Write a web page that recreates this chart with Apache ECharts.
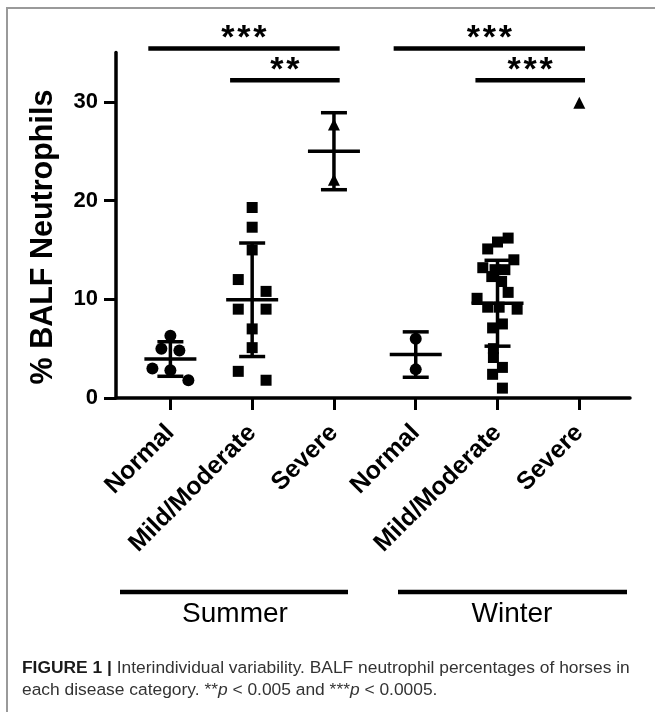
<!DOCTYPE html>
<html>
<head>
<meta charset="utf-8">
<title>BALF neutrophils</title>
<script src="https://cdn.jsdelivr.net/npm/echarts@6.0.0/dist/echarts.min.js"></script>
<style>
  html, body { margin: 0; padding: 0; background: #fff; }
  #chart { width: 655px; height: 712px; }
</style>
</head>
<body>
<div id="chart"></div>
<script>
const categories = ['Normal', 'Mild/Moderate', 'Severe', 'Normal', 'Mild/Moderate', 'Severe'];
const seasons = ['Summer', 'Winter'];
const yTicks = [0, 10, 20, 30];

// % BALF neutrophils, one value per horse
const summerNormal = [6.3, 5.0, 4.8, 3.0, 2.8, 1.8];
const summerMild = [19.3, 17.3, 15.0, 12.0, 10.8, 9.0, 9.0, 7.0, 5.1, 2.7, 1.8];
const summerSevere = [27.7, 22.1];
const winterNormal = [6.0, 2.9];
const winterMild = [16.2, 15.8, 15.1, 14.0, 13.2, 13.0, 13.0, 12.3, 11.8, 10.7, 10.1,
  9.2, 9.2, 9.0, 7.1, 7.5, 5.0, 4.1, 3.1, 2.4, 1.0];
const winterSevere = [29.9];

// sideways spread of the dots in a column (category units)
const summerNormalJitter = [0, -0.11, 0.11, -0.22, 0, 0.22];
const summerMildJitter = [0, 0, 0, -0.17, 0.17, -0.17, 0.17, 0, 0, -0.17, 0.17];
const summerSevereJitter = [0, 0];
const winterNormalJitter = [0, 0];
const winterMildJitter = [0.13, 0, -0.12, 0.2, -0.18, -0.03, 0.09, -0.07, 0.05, 0.13, -0.25,
  -0.12, 0.02, 0.24, -0.06, 0.06, -0.05, -0.05, 0.06, -0.06, 0.06];
const winterSevereJitter = [0];

// mean +/- SD as drawn
const groupMean = [3.95, 9.95, 25.0, 4.4, 9.6, 29.9];
const groupSD = [1.75, 5.75, 3.9, 2.3, 4.35, null];

// significance brackets
const sigPairs = [[0, 2], [1, 2], [3, 5], [4, 5]];
const sigLabels = ['***', '**', '***', '***'];
const sigLevel = [35.4, 32.2, 35.4, 32.2];

const FONT = 'Liberation Sans, Arial, Helvetica, sans-serif';

const groups = [
  [summerNormal, summerNormalJitter],
  [summerMild, summerMildJitter],
  [summerSevere, summerSevereJitter],
  [winterNormal, winterNormalJitter],
  [winterMild, winterMildJitter],
  [winterSevere, winterSevereJitter]
];
const shapes = ['circle', 'rect', 'triangle'];

const scatterSeries = shapes.map((shape, s) => {
  const data = [];
  groups.forEach(([vals, jit], g) => {
    if (g % 3 !== s) return;
    vals.forEach((v, i) => data.push([g + jit[i], v]));
  });
  return {
    type: 'scatter',
    symbol: shape,
    symbolSize: shape === 'rect' ? 11 : 12,
    itemStyle: { color: '#000', opacity: 1 },
    data: data,
    z: 2,
    silent: true
  };
});

const errData = [];
groupMean.forEach((m, g) => {
  if (groupSD[g] != null) errData.push([g, m, groupSD[g]]);
});

const myChart = echarts.init(document.getElementById('chart'));
const option = {
  animation: false,
  backgroundColor: '#fff',
  grid: { left: 116, right: 25, top: 52.5, bottom: 314 },
  xAxis: {
    type: 'value',
    min: -0.665,
    max: 5.62,
    splitLine: { show: false },
    axisLine: { onZero: false, lineStyle: { color: '#000', width: 3.5 } },
    axisTick: { customValues: [0, 1, 2, 3, 4, 5], length: 12, lineStyle: { color: '#000', width: 3 } },
    axisLabel: {
      customValues: [0, 1, 2, 3, 4, 5],
      formatter: (v) => categories[Math.round(v)],
      rotate: 45,
      margin: 31,
      fontSize: 25,
      fontWeight: 'bold',
      color: '#000',
      fontFamily: FONT
    }
  },
  yAxis: {
    type: 'value',
    min: 0,
    max: 35,
    splitLine: { show: false },
    axisLine: { show: true, onZero: false, lineStyle: { color: '#000', width: 3.5 } },
    axisTick: { show: true, customValues: yTicks, length: 12, lineStyle: { color: '#000', width: 3 } },
    axisLabel: {
      customValues: yTicks,
      margin: 18,
      fontSize: 22,
      fontWeight: 'bold',
      color: '#000',
      fontFamily: FONT
    }
  },
  series: scatterSeries.concat([
    {
      // mean line with SD whiskers
      type: 'custom',
      z: 3,
      silent: true,
      data: errData,
      renderItem: (params, api) => {
        const x = api.value(0), m = api.value(1), s = api.value(2);
        const c = api.coord([x, m]);
        const hi = api.coord([x, m + s]);
        const lo = api.coord([x, m - s]);
        const st = { stroke: '#000', lineWidth: 3.5 };
        return {
          type: 'group',
          children: [
            { type: 'line', shape: { x1: c[0] - 26, y1: c[1], x2: c[0] + 26, y2: c[1] }, style: st },
            { type: 'line', shape: { x1: c[0], y1: hi[1], x2: c[0], y2: lo[1] }, style: st },
            { type: 'line', shape: { x1: c[0] - 13, y1: hi[1], x2: c[0] + 13, y2: hi[1] }, style: st },
            { type: 'line', shape: { x1: c[0] - 13, y1: lo[1], x2: c[0] + 13, y2: lo[1] }, style: st }
          ]
        };
      }
    },
    {
      // significance brackets above the plot
      type: 'custom',
      clip: false,
      silent: true,
      z: 3,
      data: sigPairs.map((p, i) => [p[0], p[1], sigLevel[i]]),
      renderItem: (params, api) => {
        const a = api.coord([api.value(0) - 0.27, api.value(2)]);
        const b = api.coord([api.value(1) + 0.07, api.value(2)]);
        const label = sigLabels[params.dataIndex];
        const mid = (a[0] + b[0]) / 2;
        const children = [
          { type: 'line', shape: { x1: a[0], y1: a[1], x2: b[0], y2: b[1] }, style: { stroke: '#000', lineWidth: 4.5 } }
        ];
        // one asterisk at a time so they sit as far apart as in the figure
        for (let k = 0; k < label.length; k++) {
          children.push({
            type: 'text',
            x: mid + (k - (label.length - 1) / 2) * 16,
            y: a[1] - 10,
            style: {
              text: '*',
              align: 'center',
              verticalAlign: 'middle',
              fontSize: 34,
              fontWeight: 'bold',
              fontFamily: FONT,
              fill: '#000'
            }
          });
        }
        return { type: 'group', children: children };
      }
    }
  ]),
  graphic: [
    {
      type: 'polyline',
      shape: { points: [[7, 712], [7, 8], [655, 8]] },
      style: { stroke: '#9a9a9a', lineWidth: 2, fill: null }
    },
    {
      type: 'text',
      x: 44,
      y: 237,
      rotation: Math.PI / 2,
      style: {
        text: '% BALF Neutrophils',
        align: 'center',
        verticalAlign: 'middle',
        fontSize: 30.5,
        fontWeight: 'bold',
        fontFamily: FONT,
        fill: '#000'
      }
    },
    { type: 'line', shape: { x1: 120, y1: 592, x2: 348, y2: 592 }, style: { stroke: '#000', lineWidth: 4.5 } },
    { type: 'line', shape: { x1: 398, y1: 592, x2: 627, y2: 592 }, style: { stroke: '#000', lineWidth: 4.5 } },
    {
      type: 'text', x: 235, y: 614,
      style: { text: seasons[0], align: 'center', verticalAlign: 'middle', fontSize: 28, fontFamily: FONT, fill: '#000' }
    },
    {
      type: 'text', x: 512, y: 614,
      style: { text: seasons[1], align: 'center', verticalAlign: 'middle', fontSize: 28, fontFamily: FONT, fill: '#000' }
    },
    {
      type: 'text', x: 22, y: 668,
      style: {
        text: '{b|FIGURE 1 |} Interindividual variability. BALF neutrophil percentages of horses in',
        verticalAlign: 'middle',
        fontSize: 17.4,
        fontFamily: FONT,
        fill: '#333',
        rich: { b: { fontWeight: 'bold', fontSize: 17.4, fontFamily: FONT, fill: '#1a1a1a' } }
      }
    },
    {
      type: 'text', x: 22, y: 690,
      style: {
        text: 'each disease category. **{i|p} < 0.005 and ***{i|p} < 0.0005.',
        verticalAlign: 'middle',
        fontSize: 17.4,
        fontFamily: FONT,
        fill: '#333',
        rich: { i: { fontStyle: 'italic', fontSize: 17.4, fontFamily: FONT, fill: '#333' } }
      }
    }
  ]
};
myChart.setOption(option);
</script>
</body>
</html>
